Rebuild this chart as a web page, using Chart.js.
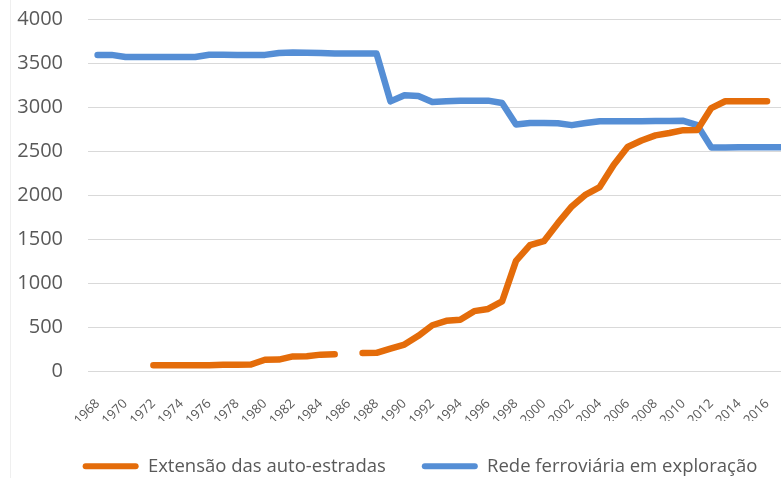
<!DOCTYPE html>
<html lang="pt">
<head>
  <meta charset="UTF-8">
  <title>Auto-estradas e rede ferroviária</title>
  <script src="https://cdn.jsdelivr.net/npm/chart.js"></script>
  <style>
    html, body {
      margin: 0;
      padding: 0;
      background: #ffffff;
      overflow: hidden;
    }
    .wrap {
      position: relative;
      width: 781px;
      height: 478px;
      overflow: hidden;
    }
    .edge {
      position: absolute;
      left: 10px;
      top: 0;
      width: 1px;
      height: 478px;
      background: #efefef;
    }
    canvas {
      position: absolute;
      left: 0;
      top: 0;
    }
  </style>
</head>
<body>
  <div class="wrap">
    <div class="edge"></div>
    <canvas id="chart" width="840" height="478"></canvas>
  </div>

  <script>
    const years = [
      1968, 1969, 1970, 1971, 1972, 1973, 1974, 1975, 1976, 1977,
      1978, 1979, 1980, 1981, 1982, 1983, 1984, 1985, 1986, 1987,
      1988, 1989, 1990, 1991, 1992, 1993, 1994, 1995, 1996, 1997,
      1998, 1999, 2000, 2001, 2002, 2003, 2004, 2005, 2006, 2007,
      2008, 2009, 2010, 2011, 2012, 2013, 2014, 2015, 2016, 2017
    ];

    const autoEstradas = [
      null, null, null, null, 64, 64, 64, 64, 66, 70,
      72, 74, 128, 130, 166, 168, 186, 190, null, 204,
      206, 255, 300, 400, 520, 570, 583, 680, 705, 790,
      1252, 1430, 1475, 1680, 1870, 2005, 2090, 2342, 2545, 2620,
      2678, 2705, 2737, 2740, 2988, 3065, 3065, 3065, 3065, null
    ];

    const redeFerroviaria = [
      3592, 3592, 3568, 3568, 3568, 3568, 3568, 3568, 3594, 3594,
      3592, 3592, 3592, 3614, 3618, 3616, 3614, 3607, 3607, 3607,
      3607, 3064, 3134, 3126, 3057, 3064, 3072, 3070, 3072, 3045,
      2800, 2818, 2818, 2815, 2794, 2818, 2839, 2839, 2839, 2839,
      2842, 2842, 2843, 2794, 2541, 2541, 2544, 2544, 2544, 2544
    ];

    const xTickYears = [
      1968, 1970, 1972, 1974, 1976, 1978, 1980, 1982, 1984, 1986, 1988, 1990,
      1992, 1994, 1996, 1998, 2000, 2002, 2004, 2006, 2008, 2010, 2012, 2014, 2016
    ];

    const seriesNames = ['Extensão das auto-estradas', 'Rede ferroviária em exploração'];
    const orange = '#E46C0A';
    const blue = '#558ED5';
    const grey = '#595959';

    const toPoints = vals => years.map((y, i) => ({ x: y, y: vals[i] }));

    new Chart(document.getElementById('chart'), {
      type: 'line',
      data: {
        datasets: [
          {
            label: seriesNames[0],
            data: toPoints(autoEstradas),
            borderColor: orange,
            backgroundColor: orange,
            borderWidth: 6.5,
            borderCapStyle: 'round',
            borderJoinStyle: 'round',
            pointRadius: 0,
            tension: 0,
            spanGaps: false
          },
          {
            label: seriesNames[1],
            data: toPoints(redeFerroviaria),
            borderColor: blue,
            backgroundColor: blue,
            borderWidth: 6.5,
            borderCapStyle: 'round',
            borderJoinStyle: 'round',
            pointRadius: 0,
            tension: 0
          }
        ]
      },
      options: {
        responsive: false,
        animation: false,
        devicePixelRatio: 1,
        layout: { padding: { top: 19, left: 0, right: 0, bottom: 0 } },
        scales: {
          x: {
            type: 'linear',
            min: 1967.312,
            max: 2021.23,
            grid: { display: false },
            border: { display: false },
            afterBuildTicks: scale => {
              scale.ticks = xTickYears.map(v => ({ value: v }));
            },
            afterFit: scale => { scale.height = 50; },
            ticks: {
              autoSkip: false,
              minRotation: 45,
              maxRotation: 45,
              padding: 17,
              color: grey,
              font: { family: 'Open Sans', size: 13 },
              callback: v => String(v)
            }
          },
          y: {
            min: 0,
            max: 4000,
            grid: {
              color: '#d9d9d9',
              lineWidth: 1,
              drawTicks: true,
              tickLength: 23,
              tickColor: 'rgba(0,0,0,0)'
            },
            border: { display: false },
            afterFit: scale => { scale.width = 88; },
            ticks: {
              stepSize: 500,
              padding: 2,
              color: grey,
              font: { family: 'Open Sans', size: 20 },
              callback: v => String(v)
            }
          }
        },
        plugins: {
          tooltip: { enabled: false },
          legend: {
            position: 'bottom',
            maxHeight: 57,
            labels: {
              boxWidth: 56,
              boxHeight: 6,
              padding: 36,
              color: grey,
              useBorderRadius: true,
              borderRadius: 3,
              font: { family: 'Open Sans', size: 18.5 },
              generateLabels: chart =>
                Chart.defaults.plugins.legend.labels.generateLabels(chart).map(l => ({
                  ...l, lineWidth: 0, fillStyle: l.strokeStyle
                }))
            }
          }
        }
      }
    });
  </script>
</body>
</html>
